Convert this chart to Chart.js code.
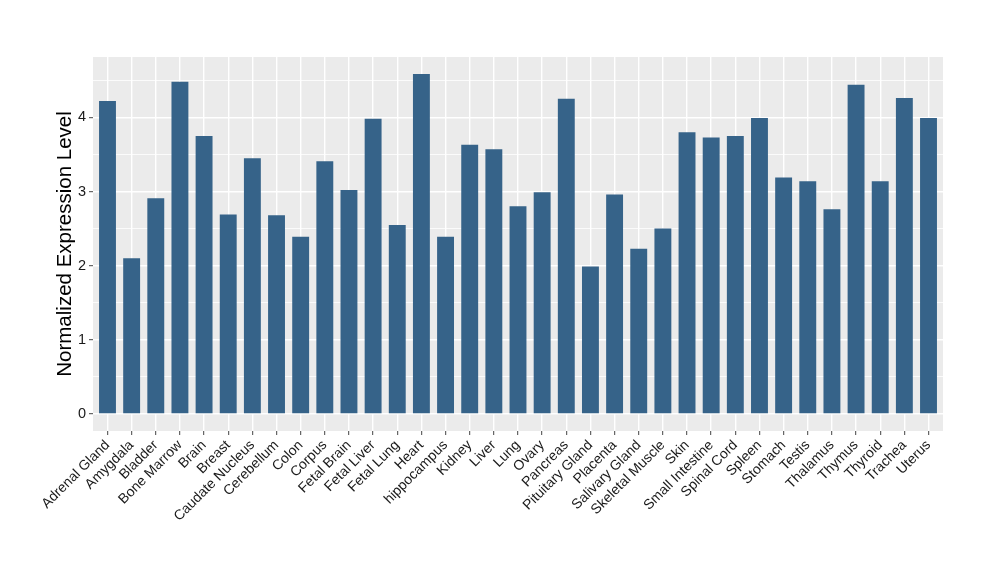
<!DOCTYPE html>
<html>
<head>
<meta charset="utf-8">
<script src="https://cdn.jsdelivr.net/npm/chart.js@4/dist/chart.umd.min.js"></script>
<style>
  html, body { margin: 0; padding: 0; background: #fff; }
  #wrap { width: 1000px; height: 580px; }
</style>
</head>
<body>
<div id="wrap"><canvas id="myChart" width="1000" height="580"></canvas></div>
<script>
const tissues = ['Adrenal Gland', 'Amygdala', 'Bladder', 'Bone Marrow', 'Brain', 'Breast',
  'Caudate Nucleus', 'Cerebellum', 'Colon', 'Corpus', 'Fetal Brain', 'Fetal Liver',
  'Fetal Lung', 'Heart', 'hippocampus', 'Kidney', 'Liver', 'Lung', 'Ovary', 'Pancreas',
  'Pituitary Gland', 'Placenta', 'Salivary Gland', 'Skeletal Muscle', 'Skin',
  'Small Intestine', 'Spinal Cord', 'Spleen', 'Stomach', 'Testis', 'Thalamus', 'Thymus',
  'Thyroid', 'Trachea', 'Uterus'];
const expression = [4.22, 2.10, 2.91, 4.48, 3.75, 2.69,
  3.45, 2.68, 2.39, 3.41, 3.02, 3.98,
  2.55, 4.585, 2.39, 3.63, 3.57, 2.80, 2.99, 4.25,
  1.99, 2.96, 2.23, 2.50, 3.80,
  3.73, 3.75, 3.99, 3.19, 3.14, 2.76, 4.44,
  3.14, 4.26, 3.99];
const yMajor = [0, 1, 2, 3, 4];
const yMinor = [0.5, 1.5, 2.5, 3.5, 4.5];

// ggplot-like expansion
const yTop = Math.max(...expression);
const yMin = -0.05 * yTop, yMax = yTop * 1.05;

const panelBg = {
  id: 'panelBg',
  beforeDraw(chart) {
    const a = chart.chartArea, c = chart.ctx;
    c.save();
    c.fillStyle = '#ebebeb';
    c.fillRect(a.left, a.top, a.right - a.left, a.bottom - a.top);
    c.restore();
  }
};

const ctx = document.getElementById('myChart');
new Chart(ctx, {
  type: 'bar',
  data: {
    datasets: [{
      data: expression.map((v, i) => ({ x: i, y: v })),
      backgroundColor: '#366389',
      borderWidth: 0,
      categoryPercentage: 0.7,
      barPercentage: 1
    }]
  },
  options: {
    responsive: false,
    animation: false,
    layout: { padding: { left: 53, right: 57, top: 57, bottom: 0 } },
    plugins: { legend: { display: false }, tooltip: { enabled: false } },
    scales: {
      x: {
        type: 'linear',
        offset: false,
        min: -0.6,
        max: tissues.length - 0.4,
        afterBuildTicks: s => { s.ticks = tissues.map((t, i) => ({ value: i })); },
        afterFit: s => { s.height = 149; },
        border: { display: false },
        grid: { offset: false, color: '#ffffff', lineWidth: 1.4, tickLength: 4, tickColor: '#444', tickWidth: 1 },
        ticks: {
          autoSkip: false,
          minRotation: 45,
          maxRotation: 45,
          padding: 2,
          color: '#1a1a1a',
          font: { family: 'Liberation Sans', size: 14 },
          callback: v => tissues[v]
        }
      },
      y: {
        min: yMin,
        max: yMax,
        afterBuildTicks: s => { s.ticks = yMajor.concat(yMinor).sort((a, b) => a - b).map(v => ({ value: v })); },
        afterFit: s => { s.width = 40; },
        border: { display: false },
        grid: {
          color: '#ffffff',
          lineWidth: c => (c.tick && c.tick.value % 1 === 0) ? 1.4 : 0.8,
          tickLength: 4,
          tickColor: c => (c.tick && c.tick.value % 1 === 0) ? '#444' : 'rgba(0,0,0,0)',
          tickWidth: 1
        },
        ticks: {
          padding: 3,
          color: '#1a1a1a',
          font: { family: 'Liberation Sans', size: 14.5 },
          callback: v => (v % 1 === 0 ? String(v) : '')
        },
        title: {
          display: true,
          text: 'Normalized Expression Level',
          color: '#000',
          padding: 0,
          font: { family: 'Liberation Sans', size: 20.5 }
        }
      }
    }
  },
  plugins: [panelBg]
});
</script>
</body>
</html>
